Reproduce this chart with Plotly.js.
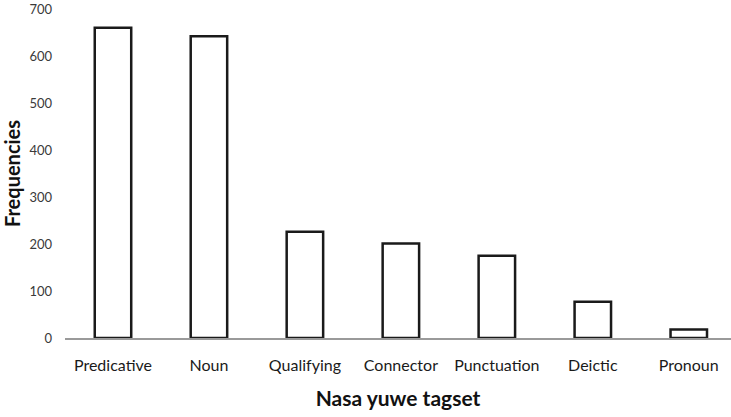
<!DOCTYPE html>
<html>
<head>
<meta charset="utf-8">
<script src="https://cdn.plot.ly/plotly-3.0.1.min.js"></script>
<style>html,body{margin:0;padding:0;background:#fff;}#chart{width:731px;height:417px;}</style>
</head>
<body>
<div id="chart"></div>
<script>
const categories = ["Predicative", "Noun", "Qualifying", "Connector", "Punctuation", "Deictic", "Pronoun"];
const frequencies = [660, 642, 226, 201, 175, 77, 18];
const yTicks = [0, 100, 200, 300, 400, 500, 600, 700];

const trace = {
  type: "bar",
  x: categories,
  y: frequencies,
  width: 0.38,
  marker: {color: "#ffffff", line: {color: "#1a1a1a", width: 2.5}},
  hoverinfo: "x+y"
};

const layout = {
  width: 731, height: 417,
  margin: {l: 65, r: 0, t: 9, b: 79},
  paper_bgcolor: "#ffffff", plot_bgcolor: "#ffffff",
  showlegend: false,
  font: {family: "Lato, 'Open Sans', sans-serif", color: "#222"},
  xaxis: {
    type: "category",
    range: [-0.5, 6.44],
    showline: true, linecolor: "#9a9a9a", linewidth: 2,
    ticks: "", showgrid: false, zeroline: false,
    ticklabelstandoff: 12,
    tickfont: {size: 16, color: "#1a1a1a"},
    title: {text: "<b>Nasa yuwe tagset</b>", font: {size: 21, color: "#111"}, standoff: 18}
  },
  yaxis: {
    range: [0, 700],
    tickvals: yTicks,
    showline: false, showgrid: false, zeroline: false, ticks: "",
    ticklabelstandoff: 12,
    tickfont: {size: 13, color: "#3a3a3a"},
    title: {text: "<b>Frequencies</b>", font: {size: 20, color: "#111"}, standoff: 6}
  }
};

Plotly.newPlot("chart", [trace], layout, {displayModeBar: false, staticPlot: true});
</script>
</body>
</html>
